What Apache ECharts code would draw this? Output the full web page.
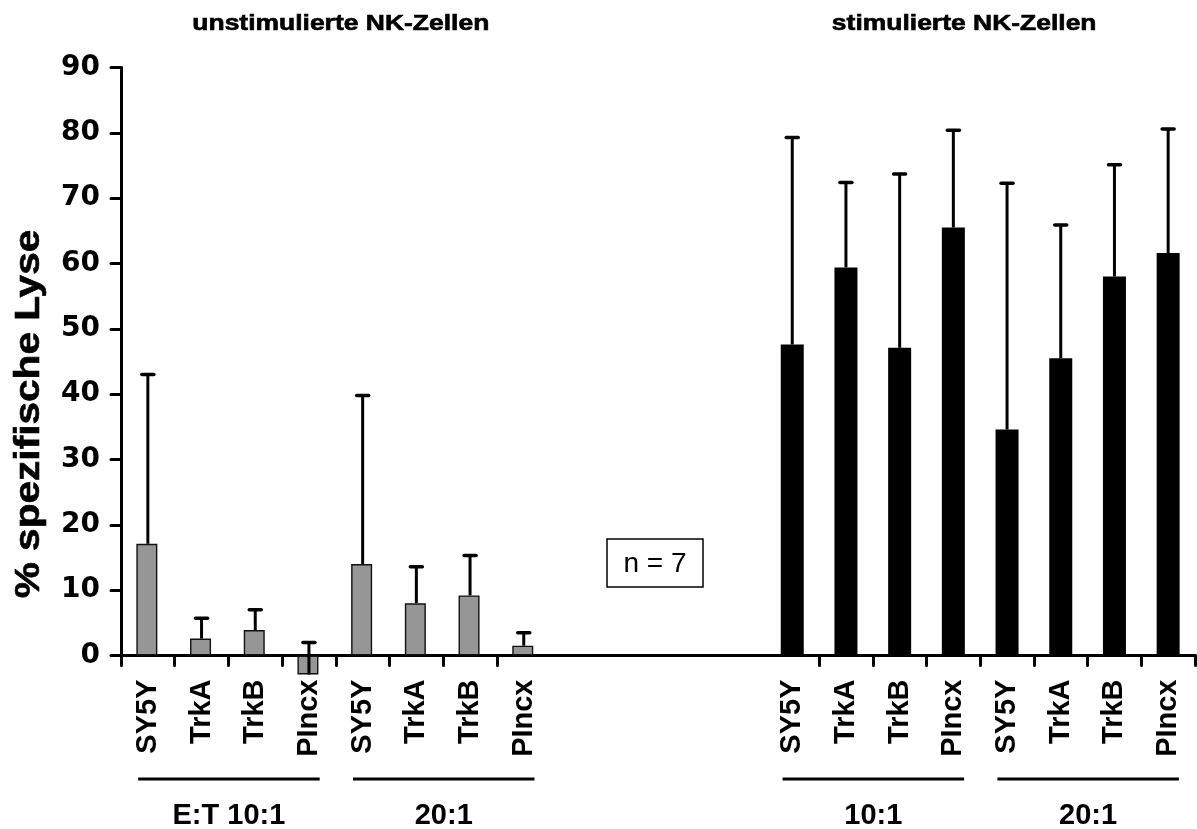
<!DOCTYPE html>
<html>
<head>
<meta charset="utf-8">
<script src="https://cdn.jsdelivr.net/npm/echarts@6/dist/echarts.min.js"></script>
<style>
  html, body { margin: 0; padding: 0; background: #fff; }
  #chart { width: 1197px; height: 829px; }
</style>
</head>
<body>
<div id="chart"></div>
<script>
// Target cell lines (repeated per effector:target ratio)
const cellLines = ['SY5Y', 'TrkA', 'TrkB', 'PIncx'];

// Unstimulated NK cells: mean % specific lysis and SD (E:T 10:1, 20:1)
const unstimMean10 = [17.1, 2.6, 3.9, -2.9];
const unstimSd10   = [25.9, 3.1, 3.1, 4.9];
const unstimMean20 = [14.0, 8.0, 9.2, 1.5];
const unstimSd20   = [25.8, 5.6, 6.1, 2.0];

// Stimulated NK cells
const stimMean10 = [47.6, 59.4, 47.1, 65.5];
const stimSd10   = [31.7, 13.0, 26.6, 14.9];
const stimMean20 = [34.6, 45.5, 58.0, 61.6];
const stimSd20   = [37.7, 20.4, 17.1, 19.0];

// Group captions under the axis
const groupLabels = ['E:T 10:1', '20:1', '10:1', '20:1'];
const panelTitles = ['unstimulierte NK-Zellen', 'stimulierte NK-Zellen'];
const yTicks = { min: 0, max: 90, interval: 10 };
const sampleNote = 'n = 7';

// Category layout: 8 unstimulated slots, 4 empty slots, 8 stimulated slots
const gapSlots = 4;
const categories = [].concat(cellLines, cellLines, new Array(gapSlots).fill(''), cellLines, cellLines);
const stimStart = 8 + gapSlots;

const unstimMeans = unstimMean10.concat(unstimMean20);
const unstimSds = unstimSd10.concat(unstimSd20);
const stimMeans = stimMean10.concat(stimMean20);
const stimSds = stimSd10.concat(stimSd20);

const unstimBars = new Array(categories.length).fill('-');
const stimBars = new Array(categories.length).fill('-');
const errData = [];
unstimMeans.forEach((m, i) => { unstimBars[i] = m; errData.push([i, m, m + unstimSds[i]]); });
stimMeans.forEach((m, i) => { stimBars[stimStart + i] = m; errData.push([stimStart + i, m, m + stimSds[i]]); });

const chart = echarts.init(document.getElementById('chart'));
const FONT = '"Liberation Sans", Arial, sans-serif';

chart.setOption({
  animation: false,
  backgroundColor: '#fff',
  grid: { left: 121, right: 2, top: 67.5, bottom: 173.5, containLabel: false },
  xAxis: {
    type: 'category',
    data: categories,
    axisLine: { lineStyle: { color: '#000', width: 3 } },
    axisTick: {
      show: true,
      length: 10,
      interval: (idx) => idx <= 7 || idx >= stimStart + 1,
      lineStyle: { color: '#000', width: 3, cap: 'round' }
    },
    axisLabel: {
      interval: 0,
      rotate: 90,
      margin: 24,
      color: '#000',
      fontSize: 29,
      fontWeight: 'bold',
      fontFamily: FONT
    },
    splitLine: { show: false }
  },
  yAxis: {
    type: 'value',
    min: yTicks.min,
    max: yTicks.max,
    interval: yTicks.interval,
    axisLine: { show: true, lineStyle: { color: '#000', width: 3 } },
    axisTick: { show: true, length: 10, lineStyle: { color: '#000', width: 3, cap: 'round' } },
    axisLabel: {
      margin: 21,
      color: '#000',
      fontSize: 28,
      fontWeight: 'bold',
      fontFamily: '"DejaVu Sans", sans-serif'
    },
    splitLine: { show: false }
  },
  series: [
    {
      name: 'unstimuliert',
      type: 'bar',
      data: unstimBars,
      barWidth: 21,
      barGap: '-100%',
      clip: false,
      itemStyle: { color: '#969696', borderColor: '#111', borderWidth: 1.4 }
    },
    {
      name: 'stimuliert',
      type: 'bar',
      data: stimBars,
      barWidth: 23,
      barGap: '-100%',
      itemStyle: { color: '#000' }
    },
    {
      name: 'SD',
      type: 'custom',
      data: errData,
      encode: { x: 0, y: [1, 2] },
      z: 5,
      renderItem: function (params, api) {
        const x = api.value(0);
        const lo = api.coord([x, api.value(1)]);
        const hi = api.coord([x, api.value(2)]);
        const half = 6;
        return {
          type: 'group',
          children: [
            { type: 'line', shape: { x1: lo[0], y1: lo[1], x2: hi[0], y2: hi[1] },
              style: { stroke: '#000', lineWidth: 3 } },
            { type: 'line', shape: { x1: hi[0] - half, y1: hi[1], x2: hi[0] + half, y2: hi[1] },
              style: { stroke: '#000', lineWidth: 3.5, lineCap: 'round' } }
          ]
        };
      }
    }
  ]
});

// Group brackets and captions under the category labels, placed via the x axis scale
const px = (i) => chart.convertToPixel({ xAxisIndex: 0 }, i);
const band = px(1) - px(0);
const groupStarts = [0, 4, stimStart, stimStart + 4];
const graphics = [];
groupStarts.forEach((s, g) => {
  const x1 = px(s) - band * 0.18;
  const x2 = px(s + 3) + band * 0.2;
  graphics.push({
    type: 'line', shape: { x1: x1, y1: 779, x2: x2, y2: 779 },
    style: { stroke: '#000', lineWidth: 3 }
  });
  graphics.push({
    type: 'text', x: (x1 + x2) / 2, y: 816,
    style: { text: groupLabels[g], font: 'bold 29px ' + FONT, fill: '#000', align: 'center', verticalAlign: 'middle' }
  });
});

// Panel titles (wide bold lettering)
const leftMid = (px(0) + px(7)) / 2;
const rightMid = (px(stimStart) + px(stimStart + 7)) / 2;
[[panelTitles[0], leftMid + 5], [panelTitles[1], rightMid - 16]].forEach(([t, x]) => {
  graphics.push({
    type: 'text', x: x, y: 24, scaleX: 1.26, scaleY: 1.08,
    style: { text: t, font: 'bold 21px ' + FONT, fill: '#000', stroke: '#000', lineWidth: 0.6,
             align: 'center', verticalAlign: 'middle' }
  });
});

// Y axis title
graphics.push({
  type: 'text', x: 29, y: 414, rotation: Math.PI / 2, scaleX: 1.16,
  style: { text: '% spezifische Lyse', font: 'bold 35px ' + FONT, fill: '#000', stroke: '#000', lineWidth: 0.6,
           align: 'center', verticalAlign: 'middle' }
});

// Sample size note
graphics.push({
  type: 'rect', shape: { x: 607, y: 539, width: 96, height: 48 },
  style: { fill: '#fff', stroke: '#000', lineWidth: 1.5 }
});
graphics.push({
  type: 'text', x: 655, y: 564,
  style: { text: sampleNote, font: '28px ' + FONT, fill: '#000', align: 'center', verticalAlign: 'middle' }
});

chart.setOption({ graphic: graphics });
</script>
</body>
</html>
